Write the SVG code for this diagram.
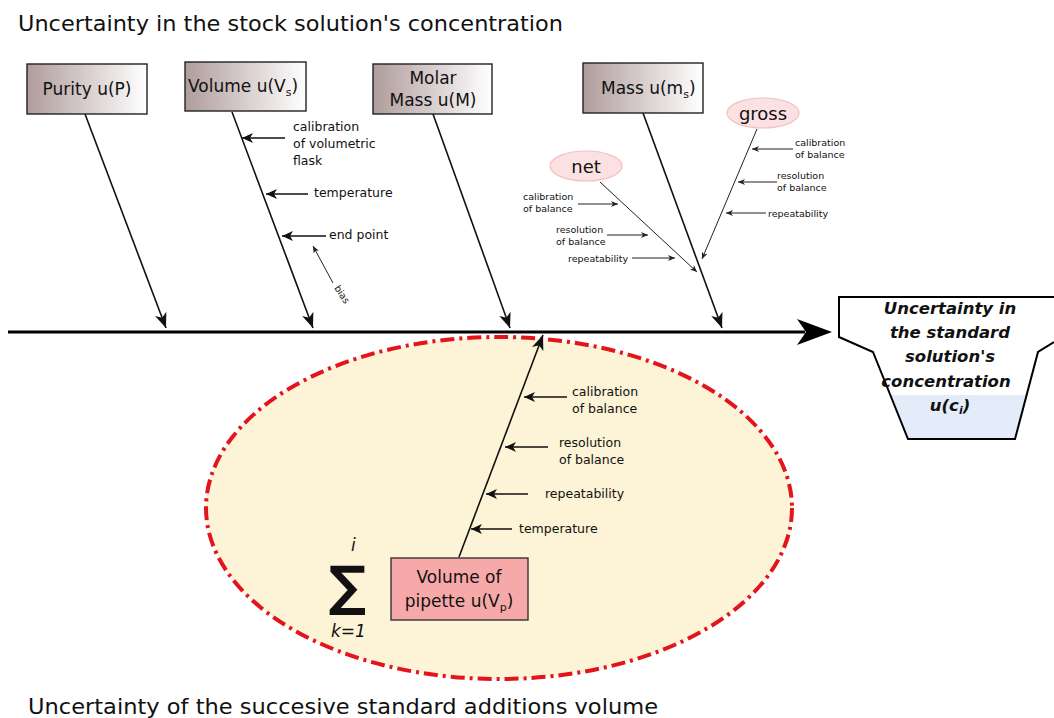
<svg xmlns="http://www.w3.org/2000/svg" width="1054" height="718" viewBox="0 0 1054 718">
<style>
  text { font-family: "DejaVu Sans", Verdana, sans-serif; fill: #111; }
  .title { font-size: 22px; }
  .box { stroke: #222; stroke-width: 1.4; fill: url(#boxGrad); }
  .boxt { font-size: 17px; }
  .lbl { font-size: 12.5px; }
  .tiny { font-size: 9.5px; }
  .big { stroke: #111; stroke-width: 1.6; fill: none; marker-end: url(#ahBig); }
  .mid { stroke: #111; stroke-width: 1.6; fill: none; marker-end: url(#ahMid); }
  .thin { stroke: #222; stroke-width: 1; fill: none; marker-end: url(#ahThin); }
  .funt { font-size: 16.5px; font-weight: bold; font-style: italic; }
  .oval { fill: #fbe1e1; stroke: #f2c0c0; stroke-width: 1.2; }
</style>
<defs>
  <linearGradient id="boxGrad" x1="0" y1="0" x2="1" y2="0">
    <stop offset="0" stop-color="#b09c9c"/>
    <stop offset="1" stop-color="#ffffff"/>
  </linearGradient>
  <marker id="ahBig" markerUnits="userSpaceOnUse" markerWidth="16" markerHeight="12" refX="15" refY="6" orient="auto">
    <path d="M0,0 L15,6 L0,12 L4,6 z" fill="#111"/>
  </marker>
  <marker id="ahMid" markerUnits="userSpaceOnUse" markerWidth="12" markerHeight="10" refX="11" refY="5" orient="auto">
    <path d="M0,0 L11,5 L0,10 L3,5 z" fill="#111"/>
  </marker>
  <marker id="ahThin" markerUnits="userSpaceOnUse" markerWidth="8" markerHeight="6" refX="7" refY="3" orient="auto">
    <path d="M0,0 L7,3 L0,6 L2,3 z" fill="#222"/>
  </marker>
</defs>

<text class="title" x="18" y="31" textLength="545" lengthAdjust="spacingAndGlyphs">Uncertainty in the stock solution's concentration</text>

<g id="ellipse-region">
  <ellipse cx="499" cy="508" rx="293" ry="171" fill="#fdf3d6" stroke="#e3141c" stroke-width="4" stroke-dasharray="14 5 3 5"/>
</g>

<g id="connectors">
  <line x1="8" y1="332" x2="805" y2="332" stroke="#000" stroke-width="3"/>
  <polygon points="797,319 832,332 797,345 806,332" fill="#000"/>
  <line class="big" x1="85" y1="114" x2="166" y2="328"/>
  <line class="big" x1="232" y1="112" x2="313" y2="328"/>
  <line class="big" x1="433" y1="114" x2="510" y2="328"/>
  <line class="big" x1="643" y1="113" x2="722" y2="328"/>
  <line class="mid" x1="285" y1="138" x2="242" y2="138"/>
  <line class="mid" x1="308" y1="194" x2="266" y2="194"/>
  <line class="mid" x1="326" y1="236" x2="282" y2="236"/>
  <line class="thin" x1="333" y1="283" x2="313" y2="246"/>
  <line class="thin" x1="600" y1="182" x2="697" y2="272"/>
  <line class="thin" x1="578" y1="204" x2="618" y2="204"/>
  <line class="thin" x1="607" y1="235" x2="648" y2="235"/>
  <line class="thin" x1="632" y1="258" x2="675" y2="258"/>
  <line class="thin" x1="757" y1="129" x2="702" y2="259"/>
  <line class="thin" x1="793" y1="149" x2="752" y2="149"/>
  <line class="thin" x1="777" y1="182" x2="738" y2="182"/>
  <line class="thin" x1="766" y1="213" x2="726" y2="213"/>
  <line class="big" x1="459" y1="557" x2="543" y2="335"/>
  <line class="mid" x1="567" y1="397" x2="524" y2="397"/>
  <line class="mid" x1="548" y1="447" x2="505" y2="447"/>
  <line class="mid" x1="528" y1="494" x2="486" y2="494"/>
  <line class="mid" x1="512" y1="529" x2="471" y2="529"/>
</g>

<g id="purity">
  <rect class="box" x="27" y="64" width="120" height="50"/>
  <text class="boxt" x="87" y="95" text-anchor="middle">Purity u(P)</text>
</g>
<g id="volume">
  <rect class="box" x="185" y="62" width="121" height="49"/>
  <text class="boxt" x="188" y="92">Volume u(V<tspan font-size="11" dy="4">s</tspan><tspan dy="-4">)</tspan></text>
  <text class="lbl" x="293" y="131">calibration</text>
  <text class="lbl" x="293" y="148">of volumetric</text>
  <text class="lbl" x="293" y="165">flask</text>
  <text class="lbl" x="314" y="197">temperature</text>
  <text class="lbl" x="329" y="239">end point</text>
  <text class="tiny" x="0" y="0" transform="translate(334,288) rotate(57)">bias</text>
</g>
<g id="molar-mass">
  <rect class="box" x="373" y="64" width="119" height="50"/>
  <text class="boxt" x="433" y="84" text-anchor="middle">Molar</text>
  <text class="boxt" x="433" y="106" text-anchor="middle">Mass u(M)</text>
</g>
<g id="mass">
  <rect class="box" x="583" y="63" width="120" height="50"/>
  <text class="boxt" x="601" y="94">Mass u(m<tspan font-size="11" dy="4">s</tspan><tspan dy="-4">)</tspan></text>
</g>
<g id="net">
  <ellipse class="oval" cx="586" cy="166" rx="36" ry="15"/>
  <text x="586" y="173" text-anchor="middle" font-size="18">net</text>
  <text class="tiny" x="523" y="200">calibration</text>
  <text class="tiny" x="523" y="212">of  balance</text>
  <text class="tiny" x="556" y="233">resolution</text>
  <text class="tiny" x="556" y="245">of balance</text>
  <text class="tiny" x="568" y="262">repeatability</text>
</g>
<g id="gross">
  <ellipse class="oval" cx="763" cy="113" rx="36" ry="15"/>
  <text x="763" y="120" text-anchor="middle" font-size="18">gross</text>
  <text class="tiny" x="795" y="146">calibration</text>
  <text class="tiny" x="795" y="158">of  balance</text>
  <text class="tiny" x="777" y="179">resolution</text>
  <text class="tiny" x="777" y="191">of balance</text>
  <text class="tiny" x="768" y="217">repeatability</text>
</g>
<g id="result-funnel">
  <polygon points="839,297 1054,297 1054,342 1038,352 1015,439 908,439 873,352 839,337" fill="#fff" stroke="none"/>
  <polygon points="890,395 1027,395 1015,439 908,439" fill="#e3ecf8"/>
  <polyline points="1054,297 839,297 839,337 873,352 908,439 1015,439 1038,352 1054,342" fill="none" stroke="#000" stroke-width="2"/>
  <text class="funt" x="950" y="314" text-anchor="middle">Uncertainty in</text>
  <text class="funt" x="950" y="338" text-anchor="middle">the standard</text>
  <text class="funt" x="950" y="362" text-anchor="middle">solution's</text>
  <text class="funt" x="946" y="387" text-anchor="middle">concentration</text>
  <text class="funt" x="950" y="411" text-anchor="middle">u(c<tspan font-size="11" dy="3">i</tspan><tspan dy="-3">)</tspan></text>
</g>
<g id="pipette">
  <rect x="391" y="558" width="137" height="62" fill="#f7a9aa" stroke="#333" stroke-width="1.4"/>
  <text class="boxt" x="459" y="583" text-anchor="middle">Volume of</text>
  <text class="boxt" x="459" y="607" text-anchor="middle">pipette u(V<tspan font-size="11" dy="4">p</tspan><tspan dy="-4">)</tspan></text>
  <text class="lbl" x="572" y="396">calibration</text>
  <text class="lbl" x="572" y="413">of  balance</text>
  <text class="lbl" x="559" y="447">resolution</text>
  <text class="lbl" x="559" y="464">of balance</text>
  <text class="lbl" x="545" y="498">repeatability</text>
  <text class="lbl" x="519" y="533">temperature</text>
</g>
<g id="sum">
  <text x="351" y="551" font-size="17" font-style="italic">i</text>
  <text x="330" y="604" font-size="52" stroke="#111" stroke-width="2">∑</text>
  <text x="331" y="637" font-size="17" font-style="italic">k=1</text>
</g>

<text class="title" x="28" y="714" textLength="630" lengthAdjust="spacingAndGlyphs">Uncertainty of the succesive standard additions volume</text>
</svg>
